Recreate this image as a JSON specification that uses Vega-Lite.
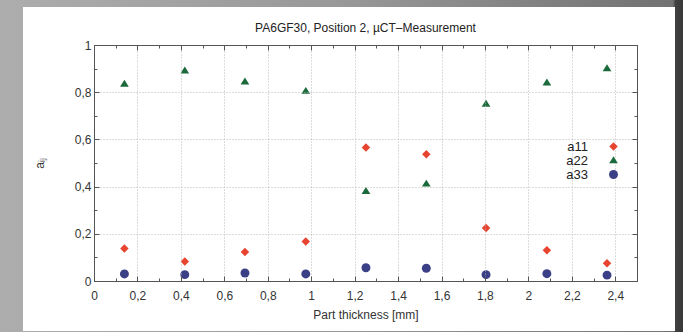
{
  "$schema": "https://vega.github.io/schema/vega-lite/v6.json",
  "width": 543,
  "height": 236,
  "autosize": {"type": "none"},
  "padding": {"left": 94, "top": 45, "right": 46, "bottom": 51},
  "background": "#a0a0a0",
  "title": {"text": "PA6GF30, Position 2, µCT–Measurement", "fontSize": 12, "font": "Liberation Sans", "fontWeight": "normal", "color": "#222222", "offset": 0, "dy": 35, "anchor": "middle", "zindex": 2},
  "config": {"view": {"stroke": null}, "font": "Liberation Sans"},
  "data": {"values": [
    {"t": 0.14, "s": "a11", "v": 0.138}, {"t": 0.418, "s": "a11", "v": 0.083}, {"t": 0.695, "s": "a11", "v": 0.123},
    {"t": 0.975, "s": "a11", "v": 0.167}, {"t": 1.252, "s": "a11", "v": 0.566}, {"t": 1.53, "s": "a11", "v": 0.537},
    {"t": 1.805, "s": "a11", "v": 0.225}, {"t": 2.085, "s": "a11", "v": 0.130}, {"t": 2.362, "s": "a11", "v": 0.075},
    {"t": 0.14, "s": "a22", "v": 0.835}, {"t": 0.418, "s": "a22", "v": 0.891}, {"t": 0.695, "s": "a22", "v": 0.845},
    {"t": 0.975, "s": "a22", "v": 0.805}, {"t": 1.252, "s": "a22", "v": 0.381}, {"t": 1.53, "s": "a22", "v": 0.412},
    {"t": 1.805, "s": "a22", "v": 0.750}, {"t": 2.085, "s": "a22", "v": 0.840}, {"t": 2.362, "s": "a22", "v": 0.901},
    {"t": 0.14, "s": "a33", "v": 0.030}, {"t": 0.418, "s": "a33", "v": 0.027}, {"t": 0.695, "s": "a33", "v": 0.034},
    {"t": 0.975, "s": "a33", "v": 0.030}, {"t": 1.252, "s": "a33", "v": 0.056}, {"t": 1.53, "s": "a33", "v": 0.054},
    {"t": 1.805, "s": "a33", "v": 0.027}, {"t": 2.085, "s": "a33", "v": 0.031}, {"t": 2.362, "s": "a33", "v": 0.025}
  ]},
  "layer": [
    {
      "data": {"values": [{}]},
      "mark": {"type": "rect", "clip": false, "color": {"gradient": "linear", "x1": 0, "y1": 0, "x2": 1, "y2": 0, "stops": [
        {"offset": 0, "color": "#adadad"}, {"offset": 0.5, "color": "#989898"}, {"offset": 0.985, "color": "#727272"},
        {"offset": 0.989, "color": "#404040"}, {"offset": 1, "color": "#383838"}]}},
      "encoding": {
        "x": {"datum": -0.4328, "type": "quantitative", "scale": {"domain": [0, 2.5], "nice": false, "zero": false}, "axis": null},
        "x2": {"datum": 2.712},
        "y": {"datum": -0.216, "type": "quantitative", "scale": {"domain": [0, 1], "nice": false}, "axis": null},
        "y2": {"datum": 1.1907}
      }
    },
    {
      "data": {"values": [{}]},
      "mark": {"type": "rect", "clip": false, "color": "#ffffff"},
      "encoding": {
        "x": {"datum": -0.3269, "type": "quantitative", "axis": null},
        "x2": {"datum": 2.675},
        "y": {"datum": -0.2119, "type": "quantitative", "axis": null},
        "y2": {"datum": 1.161}
      }
    },
    {
      "mark": {"type": "point", "filled": true, "opacity": 1},
      "encoding": {
        "x": {"field": "t", "type": "quantitative", "axis": {
          "orient": "bottom", "zindex": 1,
          "values": [0, 0.1, 0.2, 0.3, 0.4, 0.5, 0.6, 0.7, 0.8, 0.9, 1, 1.1, 1.2, 1.3, 1.4, 1.5, 1.6, 1.7, 1.8, 1.9, 2, 2.1, 2.2, 2.3, 2.4, 2.5],
          "domain": true, "domainColor": "#555555", "domainWidth": 1,
          "ticks": true, "tickColor": "#555555", "tickWidth": 1,
          "tickSize": {"condition": {"test": "round(datum.value*10)%2==0", "value": -5}, "value": -3},
          "grid": true, "gridColor": "#b8b8b8", "gridDash": [1, 2], "gridWidth": 1,
          "gridOpacity": {"condition": {"test": "round(datum.value*10)%2==0", "value": 1}, "value": 0},
          "labelExpr": "round(datum.value*10)%2==0 ? replace(format(datum.value,'~g'),'.',',') : ''",
          "labelFontSize": 12, "labelColor": "#333333", "labelPadding": 14, "labelFlush": false, "labelOverlap": false, "labelBound": false,
          "title": "Part thickness [mm]", "titleFontSize": 12, "titleFontWeight": "normal", "titleColor": "#333333", "titlePadding": 6
        }},
        "y": {"field": "v", "type": "quantitative", "axis": {
          "orient": "left", "zindex": 1,
          "values": [0, 0.1, 0.2, 0.3, 0.4, 0.5, 0.6, 0.7, 0.8, 0.9, 1],
          "domain": true, "domainColor": "#555555", "domainWidth": 1,
          "ticks": true, "tickColor": "#555555", "tickWidth": 1,
          "tickSize": {"condition": {"test": "round(datum.value*10)%2==0", "value": -5}, "value": -3},
          "grid": true, "gridColor": "#b8b8b8", "gridDash": [1, 2], "gridWidth": 1,
          "gridOpacity": {"condition": {"test": "round(datum.value*10)%2==0", "value": 1}, "value": 0},
          "labelExpr": "round(datum.value*10)%2==0 ? replace(format(datum.value,'~g'),'.',',') : ''",
          "labelFontSize": 12, "labelColor": "#333333", "labelPadding": 8, "labelFlush": false, "labelOverlap": false, "labelBound": false,
          "title": "aᵢⱼ", "titleFontSize": 12, "titleFontWeight": "normal", "titleColor": "#333333", "titlePadding": 28
        }},
        "shape": {"field": "s", "type": "nominal", "scale": {"domain": ["a11", "a22", "a33"], "range": ["diamond", "M-1,0.65L0,-0.95L1,0.65Z", "circle"]},
          "legend": {"orient": "none", "legendX": 513, "legendY": 95, "title": null, "labelAlign": "right", "labelOffset": -32, "labelFontSize": 13, "labelColor": "#222222", "symbolSize": 78, "rowPadding": 0, "symbolStrokeWidth": 0, "zindex": 2}},
        "color": {"field": "s", "type": "nominal", "scale": {"domain": ["a11", "a22", "a33"], "range": ["#e8432f", "#1b6a3b", "#3b3f85"]},
          "legend": {"orient": "none", "legendX": 513, "legendY": 95, "title": null, "labelAlign": "right", "labelOffset": -32, "labelFontSize": 13, "labelColor": "#222222", "symbolSize": 78, "rowPadding": 0, "symbolStrokeWidth": 0, "zindex": 2}},
        "size": {"field": "s", "type": "nominal", "scale": {"domain": ["a11", "a22", "a33"], "range": [72, 80, 86]}, "legend": null}
      }
    },
    {
      "mark": {"type": "point", "opacity": 0},
      "encoding": {
        "x": {"field": "t", "type": "quantitative", "axis": {
          "orient": "top", "zindex": 1,
          "values": [0, 0.1, 0.2, 0.3, 0.4, 0.5, 0.6, 0.7, 0.8, 0.9, 1, 1.1, 1.2, 1.3, 1.4, 1.5, 1.6, 1.7, 1.8, 1.9, 2, 2.1, 2.2, 2.3, 2.4, 2.5],
          "domain": true, "domainColor": "#555555", "domainWidth": 1,
          "ticks": true, "tickColor": "#555555", "tickWidth": 1,
          "tickSize": {"condition": {"test": "round(datum.value*10)%2==0", "value": -5}, "value": -3},
          "grid": false, "labels": false, "title": null
        }},
        "y": {"field": "v", "type": "quantitative", "axis": {
          "orient": "right", "zindex": 1,
          "values": [0, 0.1, 0.2, 0.3, 0.4, 0.5, 0.6, 0.7, 0.8, 0.9, 1],
          "domain": true, "domainColor": "#555555", "domainWidth": 1,
          "ticks": true, "tickColor": "#555555", "tickWidth": 1,
          "tickSize": {"condition": {"test": "round(datum.value*10)%2==0", "value": -5}, "value": -3},
          "grid": false, "labels": false, "title": null
        }}
      }
    }
  ],
  "resolve": {"axis": {"x": "independent", "y": "independent"}}
}
